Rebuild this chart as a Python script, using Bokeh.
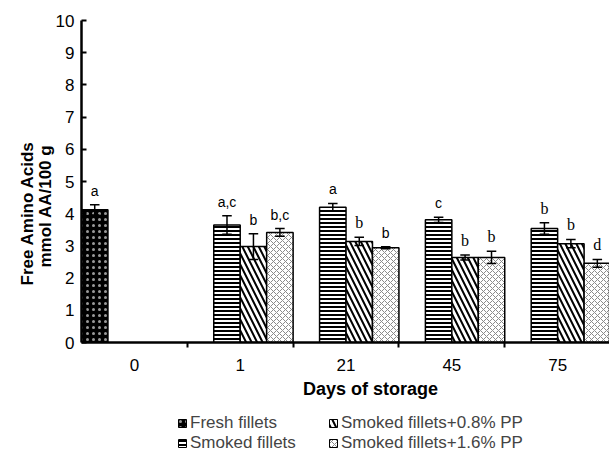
import numpy as np
from bokeh.plotting import figure
from bokeh.layouts import column
from bokeh.models import (Range1d, FixedTicker, Title, Legend, LegendItem, ColumnDataSource, Label)
from bokeh.embed import file_html
from bokeh.resources import INLINE

# ---- data ----
days = ["0", "1", "21", "45", "75"]
series = ["Fresh fillets", "Smoked fillets", "Smoked fillets+0.8% PP", "Smoked fillets+1.6% PP"]

fresh_days = ["0"]
fresh_mean = [4.12]
fresh_err = [0.16]
fresh_sig = ["a"]

smoked_days = ["1", "21", "45", "75"]
smoked_mean = [3.65, 4.20, 3.81, 3.54]
smoked_err = [0.29, 0.12, 0.08, 0.18]
smoked_sig = ["a,c", "a", "c", "b"]

pp08_mean = [2.98, 3.14, 2.64, 3.07]
pp08_err = [0.40, 0.13, 0.08, 0.13]
pp08_sig = ["b", "b", "b", "b"]

pp16_mean = [3.42, 2.94, 2.64, 2.46]
pp16_err = [0.12, 0.03, 0.19, 0.12]
pp16_sig = ["b,c", "b", "b", "d"]

# letters typed in serif in the original figure
serif_marks = {("Smoked fillets+0.8% PP", "21"), ("Smoked fillets+0.8% PP", "45"),
               ("Smoked fillets+1.6% PP", "45"), ("Smoked fillets", "75"),
               ("Smoked fillets+0.8% PP", "75"), ("Smoked fillets+1.6% PP", "75")}

SANS = "Liberation Sans"
SERIF = "Liberation Serif"

p = figure(width=609, height=380, output_backend="svg", toolbar_location=None,
           x_range=Range1d(0, 4.99), y_range=Range1d(0, 10),
           min_border_left=81, min_border_top=20, min_border_right=0, min_border_bottom=38)
p.outline_line_color = None
p.xgrid.visible = False
p.ygrid.visible = False
p.background_fill_color = "white"
p.border_fill_color = "white"

slot = 0.25

def build(name, dlist, mean, err, sig, k):
    x = [days.index(d) + slot * (k + 0.5) for d in dlist]
    hi = [m + e for m, e in zip(mean, err)]
    lo = [m - e for m, e in zip(mean, err)]
    font = [SERIF if (name, d) in serif_marks else SANS for d in dlist]
    size = ["16px" if (name, d) in serif_marks else "14px" for d in dlist]
    return ColumnDataSource(dict(x=x, top=list(mean), hi=hi, lo=lo, sig=list(sig), font=font, size=size,
                                 xl=[v - 0.045 for v in x], xr=[v + 0.045 for v in x]))

styles = [
    dict(fill_color="black", hatch_pattern="dot", hatch_color="#9a9a9a", hatch_scale=6, hatch_weight=0.5),
    dict(fill_color="white", hatch_pattern="horizontal_line", hatch_color="black", hatch_scale=4, hatch_weight=2),
    dict(fill_color="white", hatch_pattern="left_diagonal_line", hatch_color="black", hatch_scale=11, hatch_weight=2),
    dict(fill_color="white", hatch_pattern="diagonal_cross", hatch_color="#8a8a8a", hatch_scale=6, hatch_weight=1),
]

data = [
    (series[0], fresh_days, fresh_mean, fresh_err, fresh_sig),
    (series[1], smoked_days, smoked_mean, smoked_err, smoked_sig),
    (series[2], smoked_days, pp08_mean, pp08_err, pp08_sig),
    (series[3], smoked_days, pp16_mean, pp16_err, pp16_sig),
]

for k, (name, dl, m, e, s) in enumerate(data):
    src = build(name, dl, m, e, s, k)
    p.vbar(x="x", top="top", bottom=0, width=slot, source=src,
           line_color="black", line_width=1.5, **styles[k])
    p.segment(x0="x", y0="lo", x1="x", y1="hi", source=src, line_color="black", line_width=1.5)
    p.segment(x0="xl", y0="hi", x1="xr", y1="hi", source=src, line_color="black", line_width=1.5)
    p.segment(x0="xl", y0="lo", x1="xr", y1="lo", source=src, line_color="black", line_width=1.5)
    p.text(x="x", y="hi", text="sig", source=src, text_font="font", text_font_size="size",
           text_align="center", text_baseline="bottom", y_offset=-6, text_color="black")

# axes
centers = [i + 0.5 for i in range(len(days))]
xax = p.xaxis[0]
xax.ticker = FixedTicker(ticks=centers, minor_ticks=list(range(1, len(days))))
xax.major_label_overrides = {c: d for c, d in zip(centers, days)}
xax.major_tick_line_color = None
xax.minor_tick_out = 5
xax.minor_tick_in = 0
xax.minor_tick_line_width = 2
xax.minor_tick_line_color = "black"
xax.axis_line_width = 2.5
xax.major_label_text_font = SANS
xax.major_label_text_font_size = "17px"
xax.major_label_text_color = "black"
xax.major_label_standoff = 10

yax = p.yaxis[0]
yax.ticker = FixedTicker(ticks=list(range(0, 11)))
yax.minor_tick_line_color = None
yax.major_tick_in = 5
yax.major_tick_out = 0
yax.major_tick_line_width = 2
yax.axis_line_width = 2.5
yax.major_label_text_font = SANS
yax.major_label_text_font_size = "17px"
yax.major_label_text_color = "black"
yax.major_label_standoff = 7

# y axis title (two lines)
p.add_layout(Title(text="mmol AA/100 g", align="left", offset=75, standoff=-5, text_font=SANS,
                   text_font_size="17px", text_font_style="bold", text_color="black"), "left")
p.add_layout(Title(text="Free Amino Acids", align="left", offset=57, standoff=0, text_font=SANS,
                   text_font_size="17px", text_font_style="bold", text_color="black"), "left")

# ---- lower strip: x axis title and legend (its frame lines up with the chart's frame) ----
p2 = figure(width=609, height=72, output_backend="svg", toolbar_location=None,
            x_range=Range1d(81, 609), y_range=Range1d(0, 72),
            x_axis_location=None, y_axis_location=None,
            min_border_left=81, min_border_right=0, min_border_top=0, min_border_bottom=0)
p2.outline_line_color = None
p2.xgrid.visible = False
p2.ygrid.visible = False
p2.add_layout(Label(x=370, y=64, text="Days of storage", text_font=SANS, text_font_size="18px",
                    text_font_style="bold", text_align="center", text_baseline="middle",
                    text_color="black"))

dummies = [p2.vbar(x=[np.nan], top=[np.nan], width=1, line_color="black", line_width=1, **st)
           for st in styles]
legend = Legend(items=[LegendItem(label=n, renderers=[r]) for n, r in zip(series, dummies)],
                ncols=2, location=(96, -1), background_fill_alpha=0, border_line_color=None,
                label_text_font=SANS, label_text_font_size="17px", glyph_width=10, glyph_height=10,
                label_standoff=3, spacing=0, padding=0, margin=0, label_height=20, label_width=138)
p2.add_layout(legend, "center")

open("out.html", "w").write(file_html(column(p, p2, spacing=0), INLINE))
